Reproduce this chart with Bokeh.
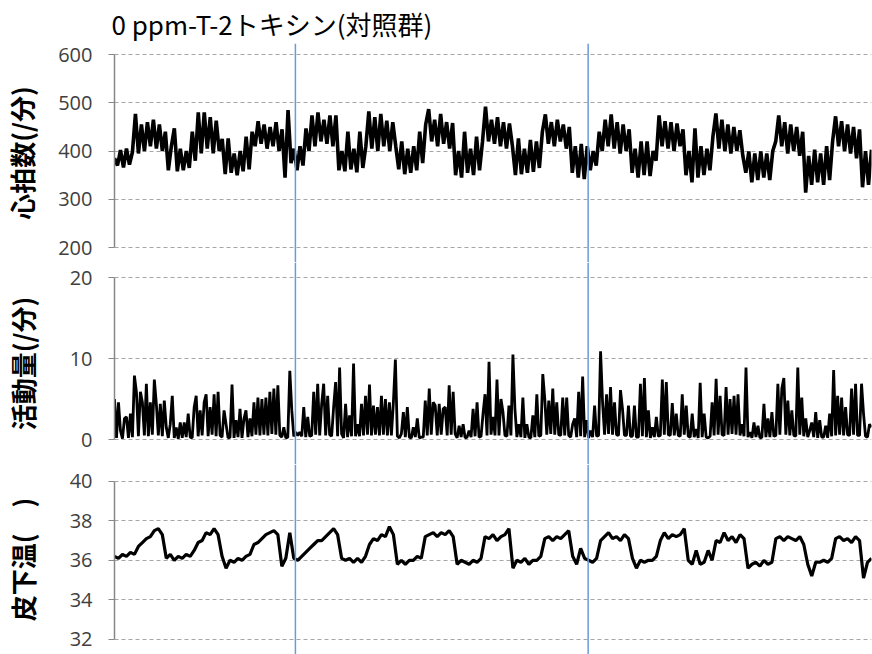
import numpy as np
from bokeh.plotting import figure
from bokeh.layouts import column
from bokeh.models import Range1d, FixedTicker, Span
from bokeh.embed import file_html
from bokeh.resources import INLINE

TITLE = "0 ppm-T-2トキシン(対照群)"
HR_LABEL = "心拍数(/分)"
ACT_LABEL = "活動量(/分)"
TEMP_LABEL = "皮下温(\u3000)"

HR_TICKS = [200, 300, 400, 500, 600]
ACT_TICKS = [0, 10, 20]
TEMP_TICKS = [32, 34, 36, 38, 40]

SPAN_DAYS = 12.93          # length of the record (days)
MARKER_DAYS = [3.09, 8.09]  # vertical reference lines

hr = [385, 370, 402, 366, 405, 372, 398, 477, 395, 455,
      400, 460, 410, 465, 405, 455, 400, 440, 360, 410,
      447, 358, 405, 360, 400, 365, 440, 380, 480, 395,
      480, 405, 470, 395, 463, 400, 425, 352, 426, 355,
      395, 350, 400, 358, 430, 362, 440, 410, 462, 415,
      455, 405, 450, 410, 460, 400, 445, 345, 485, 375,
      405, 360, 410, 370, 447, 400, 474, 410, 480, 420,
      465, 415, 474, 410, 474, 360, 400, 358, 440, 362,
      405, 356, 440, 365, 410, 482, 405, 470, 400, 477,
      410, 463, 400, 460, 410, 362, 420, 352, 405, 355,
      410, 360, 440, 375, 455, 487, 420, 465, 410, 477,
      415, 460, 405, 458, 350, 400, 345, 440, 355, 405,
      350, 430, 360, 420, 492, 420, 465, 415, 470, 410,
      460, 405, 457, 410, 350, 426, 352, 405, 355, 423,
      357, 420, 365, 440, 476, 415, 460, 410, 465, 420,
      455, 405, 450, 355, 410, 345, 415, 342, 410, 360,
      400, 370, 440, 400, 465, 410, 476, 405, 460, 395,
      455, 400, 445, 355, 405, 345, 420, 350, 420, 348,
      400, 380, 474, 410, 462, 405, 460, 400, 457, 410,
      445, 350, 400, 335, 447, 345, 410, 350, 405, 360,
      430, 478, 405, 465, 400, 455, 395, 450, 400, 443,
      390, 355, 399, 335, 395, 340, 399, 345, 395, 340,
      400, 420, 474, 410, 460, 395, 455, 400, 450, 390,
      440, 314, 390, 330, 403, 335, 395, 330, 410, 340,
      420, 472, 410, 462, 400, 455, 395, 450, 385, 445,
      325, 400, 330, 403]

activity = [5.0, 0.2, 4.6, 1.1, 0.1, 2.6, 2.8, 0.2, 3.2, 0.3,
            7.9, 5.9, 0.4, 5.9, 4.6, 0.5, 6.9, 0.4, 4.6, 0.6,
            7.4, 4.4, 0.5, 4.4, 0.4, 4.8, 1.5, 0.2, 1.9, 5.4,
            0.2, 1.5, 0.1, 2.1, 0.2, 2.1, 0.3, 3.2, 0.3, 0.2,
            4.0, 5.4, 0.4, 3.6, 0.5, 4.6, 5.6, 0.4, 4.0, 0.6,
            5.6, 0.4, 5.9, 0.5, 0.3, 3.6, 1.9, 0.2, 0.3, 6.8,
            0.2, 2.4, 0.3, 3.8, 0.2, 2.6, 3.6, 0.3, 2.6, 0.4,
            4.6, 0.6, 5.2, 0.5, 5.0, 0.6, 5.2, 0.5, 5.9, 0.7,
            6.3, 0.6, 6.7, 0.5, 0.3, 1.5, 0.2, 0.3, 8.5, 3.6,
            0.4, 0.9, 0.5, 0.9, 0.4, 4.0, 0.3, 2.8, 0.4, 0.5,
            5.9, 0.6, 6.9, 0.5, 4.4, 6.9, 0.5, 5.4, 0.6, 0.4,
            4.0, 7.1, 0.4, 8.9, 0.7, 0.2, 4.4, 0.3, 3.0, 0.4,
            9.4, 0.4, 1.9, 0.4, 4.4, 0.5, 5.4, 0.6, 6.8, 0.5,
            4.2, 0.6, 4.0, 0.5, 5.4, 0.6, 5.0, 0.5, 4.6, 0.5,
            4.6, 9.9, 0.4, 0.2, 0.7, 3.4, 0.3, 4.0, 0.3, 0.2,
            1.5, 0.3, 2.6, 0.2, 0.3, 0.3, 4.8, 0.5, 6.3, 0.6,
            4.6, 4.2, 0.5, 4.4, 0.6, 3.8, 4.0, 0.5, 6.7, 0.6,
            5.9, 0.7, 0.2, 1.7, 0.3, 1.9, 0.2, 0.3, 1.1, 0.3,
            3.8, 0.4, 4.6, 0.3, 0.4, 3.2, 5.6, 0.5, 9.6, 0.6,
            2.8, 0.5, 7.4, 0.5, 5.0, 3.4, 0.5, 0.4, 4.2, 0.5,
            10.5, 3.8, 0.3, 1.9, 0.3, 5.2, 0.2, 1.9, 0.3, 0.2,
            3.0, 0.3, 5.6, 0.4, 0.5, 8.1, 5.0, 0.6, 4.8, 0.7,
            6.3, 0.6, 4.6, 0.6, 0.5, 5.2, 0.5, 5.2, 0.5, 0.3,
            1.9, 2.6, 0.3, 5.9, 0.4, 7.8, 0.3, 2.4, 0.2, 1.1,
            0.3, 4.2, 0.4, 0.5, 10.9, 4.6, 0.6, 5.6, 0.7, 6.5,
            0.6, 4.6, 0.6, 0.5, 6.1, 3.8, 0.5, 0.5, 4.2, 0.4,
            0.4, 4.2, 0.3, 0.3, 6.9, 0.4, 7.6, 0.3, 3.6, 0.2,
            1.5, 0.3, 2.8, 0.4, 0.5, 7.4, 0.6, 7.1, 0.6, 0.5,
            4.5, 0.5, 3.2, 0.5, 0.4, 5.6, 0.6, 4.2, 0.4, 0.3,
            3.2, 0.3, 1.3, 0.2, 7.0, 0.3, 3.2, 0.3, 0.2, 0.4,
            4.6, 0.5, 7.5, 0.6, 5.4, 0.6, 0.5, 6.5, 0.6, 5.0,
            0.7, 5.4, 0.6, 5.6, 0.5, 1.9, 0.4, 8.9, 0.3, 0.9,
            0.2, 2.1, 0.3, 1.7, 0.2, 0.3, 4.4, 0.3, 2.6, 0.3,
            3.4, 0.4, 0.5, 6.9, 0.6, 6.3, 7.6, 0.6, 4.8, 0.5,
            3.6, 0.5, 0.4, 8.9, 0.6, 5.2, 0.4, 2.6, 0.3, 1.1,
            2.1, 0.3, 3.4, 0.2, 2.4, 0.3, 0.3, 1.7, 0.2, 3.2,
            0.4, 8.6, 0.5, 5.4, 0.6, 5.2, 0.5, 4.0, 0.6, 0.5,
            6.3, 0.6, 6.9, 0.5, 0.5, 6.9, 3.2, 0.4, 0.3, 1.9,
            1.5]

temperature = [36.2, 36.1, 36.3, 36.2, 36.4, 36.3, 36.7, 36.9, 37.1, 37.2,
               37.5, 37.6, 37.3, 36.1, 36.3, 36.0, 36.2, 36.1, 36.3, 36.2,
               36.5, 36.9, 37.0, 37.4, 37.3, 37.6, 37.3, 36.2, 35.6, 36.0,
               35.9, 36.1, 36.0, 36.2, 36.3, 36.8, 36.9, 37.1, 37.3, 37.4,
               37.5, 37.3, 35.7, 36.1, 37.4, 36.1, 36.0, 36.2, 36.4, 36.6,
               36.8, 37.0, 37.0, 37.2, 37.4, 37.6, 37.3, 36.1, 36.0, 36.1,
               35.9, 36.1, 35.9, 36.2, 36.8, 37.1, 37.0, 37.3, 37.2, 37.7,
               37.3, 35.8, 36.0, 35.8, 36.0, 36.0, 36.2, 36.1, 37.2, 37.3,
               37.4, 37.2, 37.4, 37.3, 37.5, 37.2, 35.8, 36.0, 35.9, 35.8,
               36.0, 35.9, 36.1, 37.2, 37.1, 37.3, 37.0, 37.2, 37.3, 37.6,
               35.6, 36.0, 35.9, 36.1, 35.8, 36.0, 36.0, 36.2, 37.1, 37.2,
               37.0, 37.2, 37.1, 37.3, 37.5, 36.2, 35.8, 36.6, 36.1, 36.0,
               35.9, 36.1, 37.0, 37.2, 37.4, 37.1, 37.2, 37.0, 37.3, 37.1,
               36.1, 35.6, 36.0, 35.9, 36.0, 36.0, 36.2, 37.0, 37.4, 37.1,
               37.3, 37.2, 37.3, 37.6, 36.0, 35.8, 36.5, 35.8, 35.9, 36.5,
               36.0, 37.0, 36.9, 37.4, 37.0, 37.2, 36.9, 37.3, 37.1, 35.6,
               35.8, 35.9, 35.7, 36.0, 35.8, 35.9, 37.1, 37.2, 37.0, 37.2,
               37.1, 37.0, 37.2, 36.8, 35.8, 35.2, 35.9, 35.9, 36.0, 35.9,
               36.1, 37.1, 37.2, 37.0, 37.1, 36.9, 37.2, 37.0, 35.1, 35.9,
               36.1]

W = 872
LEFT = 111
GRID_COLOR = "#a6a6a6"
AXIS_COLOR = "#878787"
BLUE = "#6a9bd8"
TICK_FONT = "Open Sans"
CJK_FONT = "Noto Sans CJK JP"


def make_fig(height, yr, top, title=None):
    p = figure(width=W, height=height, output_backend="svg", toolbar_location=None,
               x_range=Range1d(0, SPAN_DAYS), y_range=Range1d(*yr), title=title,
               x_axis_location=None, min_border_left=LEFT, min_border_right=1,
               min_border_top=top, min_border_bottom=0)
    p.outline_line_color = None
    p.background_fill_color = "white"
    p.border_fill_color = "white"
    p.xgrid.visible = False
    return p


def style(p, ticks, label, label_standoff):
    ax = p.yaxis[0]
    ax.ticker = FixedTicker(ticks=ticks)
    ax.bounds = (min(ticks), max(ticks))
    ax.axis_line_color = AXIS_COLOR
    ax.axis_line_width = 1.5
    ax.major_tick_line_color = AXIS_COLOR
    ax.major_tick_out = 6
    ax.major_tick_in = 0
    ax.minor_tick_line_color = None
    ax.major_label_text_font = TICK_FONT
    ax.major_label_text_font_size = "20px"
    ax.major_label_text_color = "#404040"
    ax.major_label_standoff = 16
    ax.axis_label = label
    ax.axis_label_text_font = CJK_FONT
    ax.axis_label_text_font_style = "bold"
    ax.axis_label_text_font_size = "26px"
    ax.axis_label_text_color = "black"
    ax.axis_label_standoff = label_standoff
    p.ygrid.ticker = FixedTicker(ticks=ticks)
    p.ygrid.grid_line_color = GRID_COLOR
    p.ygrid.grid_line_dash = "4 3"
    p.ygrid.grid_line_width = 1
    for d in MARKER_DAYS:
        p.add_layout(Span(location=d, dimension="height", line_color=BLUE, line_width=1.5))


# heart rate
p1 = make_fig(262, (169.0, 622.9), 38, title=TITLE)
p1.title.align = "left"
p1.title.offset = -3
p1.title.standoff = 4
p1.title.text_font = CJK_FONT
p1.title.text_font_style = "normal"
p1.title.text_font_size = "26px"
p1.title.text_color = "black"
style(p1, HR_TICKS, HR_LABEL, 15)
p1.line(np.linspace(0, SPAN_DAYS, len(hr)), hr, line_color="black", line_width=3.6)

# activity
p2 = make_fig(202, (-3.09, 21.89), 0)
style(p2, ACT_TICKS, ACT_LABEL, 26)
p2.line(np.linspace(0, SPAN_DAYS, len(activity)), activity, line_color="black", line_width=2.8)

# temperature
p3 = make_fig(190, (31.23, 40.85), 0)
style(p3, TEMP_TICKS, TEMP_LABEL, 26)
p3.line(np.linspace(0, SPAN_DAYS, len(temperature)), temperature, line_color="black", line_width=3.2)

layout = column(p1, p2, p3, spacing=0)
open("out.html", "w").write(file_html(layout, INLINE))
